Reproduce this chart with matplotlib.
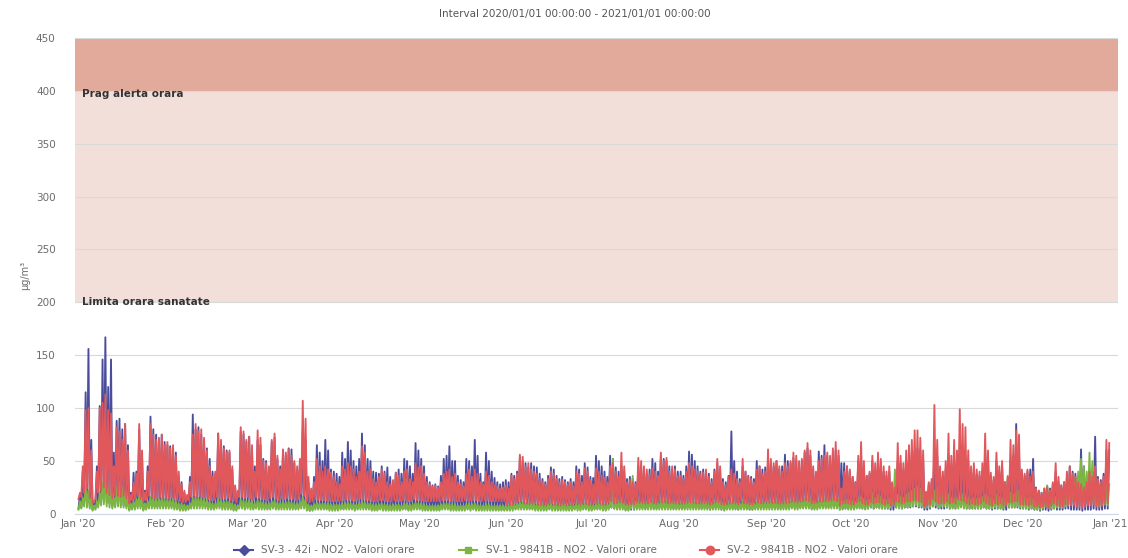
import numpy as np
import pandas as pd
import matplotlib
matplotlib.use('Agg')
import matplotlib.pyplot as plt
import matplotlib.dates as mdates
from matplotlib.lines import Line2D
from matplotlib.transforms import blended_transform_factory

title = 'Interval 2020/01/01 00:00:00 - 2021/01/01 00:00:00'
series_names = ['SV-3 - 42i - NO2 - Valori orare',
                'SV-1 - 9841B - NO2 - Valori orare',
                'SV-2 - 9841B - NO2 - Valori orare']
band_alert = (400, 450, 'Prag alerta orara')
band_limit = (200, 400, 'Limita orara sanatate')

# daily maxima, one list per month (Jan..Dec 2020)
sv2_peak = ([20,45,98,100,60,12,40,100,105,113,98,95,45,82,78,70,85,60,18,30,38,85,60,20,40,85,75,70,72,75,65]
            + [68,62,65,55,40,28,22,18,30,75,85,78,80,72,60,45,35,40,76,70,62,58,60,45,27,22,82,78,70]
            + [73,65,40,79,72,50,48,45,70,76,55,42,61,58,61,55,50,45,52,107,90,35,24,30,52,45,40,45,42,39,35]
            + [30,28,45,42,48,45,42,35,40,64,58,40,42,33,30,35,42,38,30,28,32,39,36,30,40,42,33,30,48,44]
            + [45,38,30,28,26,27,25,30,38,40,42,35,38,30,28,26,38,42,35,42,38,30,28,40,36,30,27,26,24,25,27]
            + [24,36,33,38,56,54,45,48,42,40,38,33,30,28,33,40,38,33,30,32,30,28,30,26,40,38,30,43,40,32]
            + [28,43,40,36,34,30,45,48,40,35,58,45,30,32,30,28,53,50,45,42,38,43,40,36,58,50,53,40,45,42,36]
            + [36,33,40,48,45,42,40,38,39,42,35,30,40,52,45,30,27,35,42,38,33,30,52,40,35,33,30,42,45,38,40]
            + [61,52,48,50,45,40,48,45,50,58,55,50,52,60,67,60,45,40,50,52,55,58,55,62,68,60,24,40,45,42]
            + [35,30,55,68,50,36,40,55,48,58,52,45,40,45,30,25,67,55,48,60,65,70,79,79,72,60,21,30,33,103,70]
            + [45,40,50,76,55,70,60,99,85,82,60,45,48,42,40,48,76,60,39,35,58,45,50,30,35,70,65,79,75,42]
            + [38,42,35,40,24,22,20,24,25,22,30,48,35,27,30,40,45,38,35,30,28,25,30,40,35,45,33,30,35,70,67])
sv2_low = ([14,16,20,24,15,10,14,20,22,25,20,18,15,17,17,16,17,15,10,13,14,17,15,12,13,17,16,15,15,16,15]
           + [15,15,15,14,13,12,11,11,13,16,17,16,17,16,15,14,13,13,16,15,15,14,15,13,12,11,16,16,15]
           + [16,15,13,16,15,14,14,13,15,16,14,13,15,14,15,14,14,13,14,19,17,12,11,12,14,13,13,13,13,13,12]
           + [12,12,13,13,14,13,13,12,13,15,14,13,13,12,12,12,13,13,12,12,12,13,12,12,13,13,12,12,14,13]
           + [13,13,12,12,12,12,12,12,13,13,13,12,13,12,12,12,13,13,13,13,13,12,12,13,13,12,12,12,12,12,12]
           + [8,9,9,10,12,12,11,11,10,10,10,9,9,9,9,10,10,9,9,9,9,9,9,9,10,10,9,10,10,9]
           + [9,10,10,10,9,9,11,12,10,10,12,11,9,9,9,9,11,11,11,10,10,11,10,10,12,11,12,10,11,10,10]
           + [10,10,10,11,11,11,10,10,10,11,10,9,10,12,11,9,9,10,11,10,10,9,12,10,10,9,9,11,11,10,11]
           + [12,11,11,11,10,10,11,10,11,12,12,11,12,12,13,12,10,10,11,12,12,12,12,13,13,12,8,10,10,10]
           + [9,9,11,12,10,9,9,11,10,11,11,10,9,10,8,8,12,11,10,11,12,12,13,13,12,11,7,8,9,14,12]
           + [10,10,10,12,10,11,10,14,13,12,10,9,10,9,9,10,12,10,9,8,10,9,10,8,8,11,11,12,12,9]
           + [9,9,8,9,7,7,6,7,7,6,8,10,8,7,7,9,9,8,8,7,7,6,7,8,8,9,7,7,8,10,10])

sv3_peak = ([18,40,115,156,70,10,45,102,146,167,120,146,58,88,90,80,85,65,20,39,40,80,55,22,45,92,80,75,70,75,68]
            + [65,64,62,58,35,30,20,16,35,94,80,82,75,70,62,52,40,38,76,65,64,60,58,42,25,20,78,75,68]
            + [73,60,45,70,65,52,50,40,68,72,52,45,60,55,62,61,48,42,50,79,70,30,22,35,65,58,50,70,60,42,40]
            + [38,35,58,52,68,60,50,45,52,76,65,52,50,40,39,38,45,40,44,35,30,39,42,38,52,50,45,38,67,60]
            + [52,45,35,30,27,28,26,36,52,55,64,50,50,36,32,30,52,50,45,70,55,38,30,58,50,40,34,30,28,30,32]
            + [30,38,36,40,54,50,48,44,48,45,44,38,33,30,36,44,42,36,33,35,32,30,33,30,45,42,36,48,44,35]
            + [34,55,50,45,40,35,55,52,44,40,45,40,33,35,33,30,45,42,40,38,42,52,48,40,55,52,50,45,42,45,40]
            + [40,36,45,59,56,50,45,40,42,40,38,33,42,48,42,33,30,36,78,50,40,33,45,40,36,35,33,50,45,42,44]
            + [50,48,45,50,42,45,56,50,48,53,50,45,50,58,62,55,42,38,59,55,65,55,50,58,60,55,48,48,45,40]
            + [35,30,50,55,40,36,38,50,42,50,48,40,36,40,28,24,50,48,42,50,55,58,60,62,60,52,20,28,30,60,55]
            + [40,36,42,55,45,50,48,60,55,55,50,40,42,38,36,40,60,55,36,32,50,40,45,30,32,50,55,85,60,40]
            + [36,40,42,52,25,22,20,24,26,24,28,40,30,27,30,35,45,40,38,35,61,45,33,38,40,73,35,32,38,60,60])
sv3_low = ([5,6,10,14,7,4,5,10,12,15,11,10,7,8,8,8,8,7,4,5,6,8,7,4,5,8,8,7,7,7,7]
           + [7,7,7,6,5,4,4,4,5,8,9,8,8,8,7,6,5,5,8,7,7,6,7,5,4,4,8,8,7]
           + [8,7,5,8,7,6,6,5,7,8,6,5,7,6,7,6,6,5,6,10,8,4,3,4,6,5,5,5,5,5,4]
           + [4,4,5,5,6,5,5,4,5,7,6,5,5,4,4,4,5,5,4,4,4,5,4,4,5,5,4,4,6,5]
           + [5,5,4,4,4,4,4,4,5,5,5,4,5,4,4,4,5,5,5,5,5,4,4,5,5,4,4,4,4,4,4]
           + [4,5,5,5,6,6,6,6,5,5,5,5,5,4,5,5,5,5,4,5,5,4,5,4,5,5,5,5,5,5]
           + [4,5,5,5,5,4,6,6,5,5,6,6,4,4,4,4,6,6,6,5,5,6,5,5,6,6,6,5,6,5,5]
           + [5,5,5,6,6,6,5,5,5,6,5,4,5,6,6,4,4,5,6,5,5,4,6,5,5,4,4,6,6,5,6]
           + [6,6,6,6,5,5,6,5,6,6,6,6,6,6,7,6,5,5,6,6,6,6,6,7,7,6,4,5,5,5]
           + [5,5,6,6,5,5,5,6,5,6,6,5,5,5,4,4,6,6,5,6,6,6,7,7,6,6,4,4,5,7,6]
           + [5,5,5,6,5,6,5,7,7,6,5,5,5,5,5,5,6,5,5,4,5,5,5,4,4,6,6,6,6,5]
           + [5,5,4,5,4,4,3,4,4,3,4,5,4,4,4,5,5,4,4,4,4,3,4,4,4,5,4,4,4,5,5])

sv1_peak = ([12,15,27,22,15,8,12,20,30,39,25,20,15,25,30,25,20,15,10,12,14,18,15,10,12,16,15,14,14,15,14]
            + [14,13,14,12,10,10,9,8,10,15,16,15,15,14,13,12,10,10,14,13,12,12,12,10,9,8,14,13,12]
            + [13,12,10,13,12,11,10,10,12,13,11,10,12,11,12,11,10,10,11,16,14,9,8,9,11,10,10,10,10,9,9]
            + [9,9,10,10,11,10,10,9,10,12,11,10,10,9,9,9,10,9,9,8,9,9,9,8,10,10,9,9,11,10]
            + [10,9,8,8,8,8,8,9,10,10,10,9,9,8,8,8,9,10,9,10,9,8,8,9,9,8,8,8,8,8,8]
            + [8,9,9,10,11,11,10,10,10,10,9,9,9,8,9,10,9,9,8,9,9,8,9,8,10,9,9,10,10,9]
            + [8,10,10,10,9,9,12,52,15,12,12,10,9,9,36,12,12,11,11,10,14,12,10,10,13,12,12,11,11,11,10]
            + [10,10,11,12,12,11,11,10,11,11,10,10,11,13,12,10,9,10,11,11,10,10,12,11,10,10,10,11,12,11,11]
            + [12,11,11,12,11,10,12,11,12,13,12,12,13,14,15,14,12,11,12,13,14,14,13,15,15,14,10,12,13,12]
            + [12,11,14,16,14,12,13,20,15,18,16,14,13,15,20,42,18,16,15,18,20,22,24,26,24,22,20,21,18,22,25]
            + [20,22,24,18,15,14,15,16,18,16,15,14,15,14,15,16,18,16,15,14,18,16,15,14,36,20,18,20,22,18]
            + [16,15,15,14,12,12,12,14,27,22,18,16,18,20,18,22,25,30,35,40,52,45,40,58,50,40,30,25,28,30,28])
sv1_low = ([4,5,7,6,5,3,4,6,8,9,7,6,5,6,7,6,6,5,3,4,4,5,5,3,4,5,5,5,5,5,5]
           + [5,5,5,4,4,3,3,3,4,5,5,5,5,5,5,4,4,4,5,5,4,4,4,4,3,3,5,5,4]
           + [5,4,4,5,4,4,4,4,4,5,4,4,4,4,4,4,4,4,4,5,5,3,3,3,4,4,4,4,4,3,3]
           + [3,3,4,4,4,4,4,3,4,4,4,4,4,3,3,3,4,3,3,3,3,3,3,3,4,4,3,3,4,4]
           + [4,3,3,3,3,3,3,3,4,4,4,3,3,3,3,3,3,4,3,4,3,3,3,3,3,3,3,3,3,3,3]
           + [3,3,3,4,4,4,4,4,4,4,3,3,3,3,3,4,3,3,3,3,3,3,3,3,4,3,3,4,4,3]
           + [3,4,4,4,3,3,4,6,5,4,4,4,3,3,5,4,4,4,4,4,4,4,4,4,4,4,4,4,4,4,4]
           + [4,4,4,4,4,4,4,4,4,4,4,4,4,4,4,4,3,4,4,4,4,4,4,4,4,4,4,4,4,4,4]
           + [4,4,4,4,4,4,4,4,4,5,4,4,5,5,5,5,4,4,4,5,5,5,5,5,5,5,4,4,5,4]
           + [4,4,5,5,5,4,5,6,5,6,5,5,5,5,6,8,6,5,5,6,6,7,7,8,7,7,6,6,6,7,8]
           + [6,7,7,6,5,5,5,5,6,5,5,5,5,5,5,5,6,5,5,5,6,5,5,5,8,6,6,6,7,6]
           + [5,5,5,5,4,4,4,5,7,6,5,5,6,6,6,7,8,9,10,11,12,11,10,12,11,10,8,7,8,9,8])

for arr in (sv2_peak, sv2_low, sv3_peak, sv3_low, sv1_peak, sv1_low):
    assert len(arr) == 366, [len(a) for a in (sv2_peak, sv2_low, sv3_peak, sv3_low, sv1_peak, sv1_low)]

days = pd.date_range('2020-01-01', periods=366, freq='D')


def zigzag(low, peak):
    # night minimum, then the evening maximum of every day
    t = np.empty(2 * len(days), dtype='datetime64[ns]')
    t[0::2] = (days + pd.Timedelta(hours=4)).values
    t[1::2] = (days + pd.Timedelta(hours=17)).values
    v = np.empty(2 * len(days))
    v[0::2] = low
    v[1::2] = peak
    return t, v


blue = '#4a4c9c'
green = '#7cb544'
red = '#e0585c'
grey = '#6b6b6b'

fig = plt.figure(figsize=(11.28, 5.58), dpi=100)
ax = fig.add_axes([0.0665, 0.079, 0.9246, 0.853])

ax.axhspan(band_alert[0], band_alert[1], color='#e2aa9a', zorder=0, lw=0)
ax.axhspan(band_limit[0], band_limit[1], color='#f3dfda', zorder=0, lw=0)

for low, peak, c, z in [(sv3_low, sv3_peak, blue, 2),
                        (sv1_low, sv1_peak, green, 3),
                        (sv2_low, sv2_peak, red, 4)]:
    t, v = zigzag(low, peak)
    ax.plot(t, v, color=c, lw=1.35, zorder=z)

tr = blended_transform_factory(ax.transAxes, ax.transData)
ax.text(0.007, band_alert[0] - 3, band_alert[2], transform=tr, fontsize=7.5,
        fontweight='bold', color='#333333', va='center', ha='left', zorder=5)
ax.text(0.007, band_limit[0], band_limit[2], transform=tr, fontsize=7.5,
        fontweight='bold', color='#333333', va='center', ha='left', zorder=5)

ax.set_ylim(0, 450)
ax.set_yticks(np.arange(0, 451, 50))
ax.set_xlim(pd.Timestamp('2020-01-01') - pd.Timedelta(days=1.06),
            pd.Timestamp('2020-01-01') + pd.Timedelta(days=368.8))
ax.xaxis.set_major_locator(mdates.MonthLocator())
ax.xaxis.set_major_formatter(mdates.DateFormatter("%b '%y"))

ax.set_axisbelow(True)
ax.grid(axis='y', color='#d9d9d9', lw=0.8, zorder=0.5)
ax.tick_params(length=0, labelsize=7.5, labelcolor=grey)
ax.tick_params(axis='y', pad=14)
ax.tick_params(axis='x', pad=4)
for s in ['top', 'right', 'left']:
    ax.spines[s].set_visible(False)
ax.spines['bottom'].set_color('#d0d8e8')
ax.set_ylabel('µg/m³', fontsize=7, color=grey, labelpad=4)

fig.text(0.51, 0.975, title, ha='center', va='center', fontsize=7.5, color='#555555')

handles = [Line2D([], [], color=blue, marker='D', markersize=5, lw=1.5),
           Line2D([], [], color=green, marker='s', markersize=4, lw=1.5),
           Line2D([], [], color=red, marker='o', markersize=6, lw=1.5)]
fig.legend(handles, series_names, loc='lower center', bbox_to_anchor=(0.502, -0.012),
           ncol=3, frameon=False, fontsize=7.5, labelcolor=grey,
           handlelength=1.8, columnspacing=4.2)

plt.savefig('out.png', dpi=100)
